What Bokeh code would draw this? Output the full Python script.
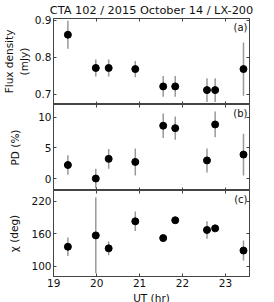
from bokeh.plotting import figure
from bokeh.models import Range1d, LinearAxis, FixedTicker, Label
from bokeh.layouts import column
from bokeh.embed import file_html
from bokeh.resources import INLINE

ut = [19.33, 19.98, 20.28, 20.90, 21.55, 21.83, 22.57, 22.76, 23.42]
flux = [0.861, 0.771, 0.771, 0.768, 0.721, 0.721, 0.711, 0.711, 0.768]
flux_err = [0.038, 0.023, 0.023, 0.022, 0.028, 0.028, 0.032, 0.032, 0.072]
pd = [2.2, 0.0, 3.2, 2.7, 8.6, 8.2, 2.95, 8.8, 3.9]
pd_err = [1.6, 1.6, 1.6, 2.2, 2.0, 1.9, 1.95, 2.1, 3.4]
chi = [136, 157, 133, 183, 152, 185, 167, 170, 129]
chi_err = [17, 70, 12.5, 18, 5, 4, 16, 4, 18.5]

x_ticks = [19, 20, 21, 22, 23]
flux_ticks = [0.7, 0.8, 0.9]
pd_ticks = [0, 5, 10]
chi_ticks = [100, 160, 220]

TITLE = "CTA 102 / 2015 October 14 / LX-200"
FONT = "DejaVu Sans"
FRAME_W = 196
FRAME_H = 86
LEFT = 42
RIGHT = 8
AX_COL = "#444444"
ERR_COL = "#999999"
X0, X1 = 18.995, 23.56


def hide_labels(ax):
    ax.major_label_text_color = None
    ax.major_label_text_font_size = "0px"
    ax.major_label_standoff = 0


def make_panel(y, yerr, yrange, yticks, ylabel, label_standoff, tag,
               title=None, show_x=False):
    kw = dict(frame_width=FRAME_W, frame_height=FRAME_H,
              output_backend="svg", toolbar_location=None,
              x_range=Range1d(X0, X1), y_range=Range1d(*yrange),
              min_border_left=LEFT, min_border_right=RIGHT,
              min_border_top=0, min_border_bottom=0)
    if title:
        kw["title"] = title
    p = figure(**kw)
    p.grid.visible = False
    p.outline_line_color = AX_COL
    p.background_fill_color = "white"
    p.border_fill_color = "white"
    if title:
        p.title.align = "center"
        p.title.text_font = FONT
        p.title.text_font_size = "11.3px"
        p.title.text_font_style = "normal"
        p.title.text_color = "#111111"
        p.title.standoff = 3
        p.title.offset = 4

    # right and top axes for inward ticks
    p.add_layout(LinearAxis(), "right")
    p.add_layout(LinearAxis(), "above")

    for ax in p.xaxis:
        ax.ticker = FixedTicker(ticks=x_ticks)
    for ax in p.yaxis:
        ax.ticker = FixedTicker(ticks=yticks)
    for ax in list(p.xaxis) + list(p.yaxis):
        ax.major_tick_in = 3
        ax.major_tick_out = 0
        ax.minor_tick_in = 0
        ax.minor_tick_out = 0
        ax.axis_line_color = AX_COL
        ax.major_tick_line_color = AX_COL
        ax.major_label_text_font = FONT
        ax.major_label_text_font_size = "10.5px"
        ax.major_label_text_color = "#111111"
        ax.axis_label_text_font = FONT
        ax.axis_label_text_font_style = "normal"
        ax.axis_label_text_font_size = "10.5px"
        ax.axis_label_text_color = "#111111"

    hide_labels(p.right[0])
    hide_labels(p.above[0])
    bottom = p.below[0]
    if show_x:
        bottom.major_label_standoff = 2
        bottom.axis_label = "UT (hr)"
        bottom.axis_label_standoff = 2
    else:
        hide_labels(bottom)

    left = p.left[0]
    left.axis_label = ylabel
    left.major_label_standoff = 2
    left.axis_label_standoff = label_standoff

    lo = [a - b for a, b in zip(y, yerr)]
    hi = [a + b for a, b in zip(y, yerr)]
    p.segment(x0=ut, y0=lo, x1=ut, y1=hi, line_color=ERR_COL, line_width=1.5)
    p.scatter(x=ut, y=y, size=7, fill_color="black", line_color="black")

    p.add_layout(Label(x=X1, y=yrange[1], text=tag, text_font=FONT,
                       text_font_size="10px", text_align="right",
                       text_baseline="top", x_offset=-2, y_offset=-3,
                       text_color="#111111"))
    return p


pa = make_panel(flux, flux_err, (0.672, 0.905), flux_ticks,
                "Flux density\n(mJy)", 2, "(a)", title=TITLE)
pb = make_panel(pd, pd_err, (-1.95, 12.05), pd_ticks, "PD (%)", 14, "(b)")
pc = make_panel(chi, chi_err, (81, 240), chi_ticks, "\u03c7 (deg)", 8, "(c)",
                show_x=True)

layout = column(pa, pb, pc, spacing=0)
open("out.html", "w").write(file_html(layout, INLINE))
